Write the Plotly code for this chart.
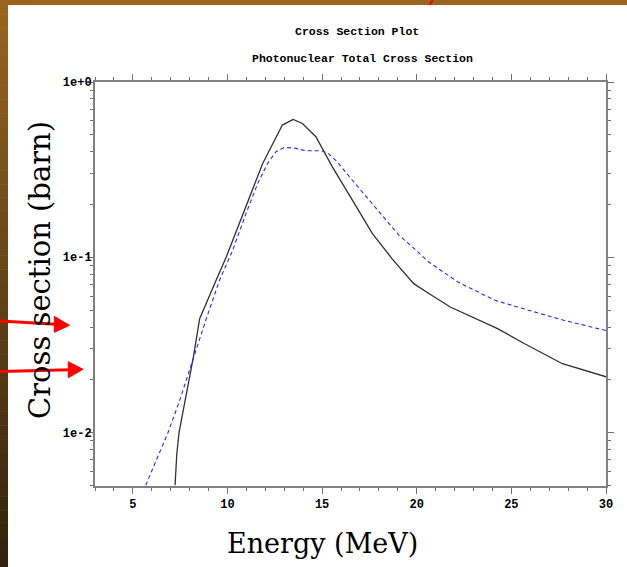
import plotly.graph_objects as go

# ---- data ----
black_energy = [7.23, 7.32, 7.44, 7.56, 7.79, 8.2, 8.53, 8.9, 9.32, 9.93, 10.63, 11.25,
                11.86, 12.4, 12.9, 13.47, 13.96, 14.67, 15.54, 16.6, 17.65, 18.7, 19.3,
                19.84, 20.6, 21.77, 24.3, 25.7, 27.7, 30.0]
black_xs = [0.005, 0.0075, 0.010, 0.0117, 0.0152, 0.027, 0.0446, 0.056, 0.0707, 0.100,
            0.156, 0.231, 0.343, 0.446, 0.568, 0.612, 0.58, 0.487, 0.328, 0.212, 0.137,
            0.098, 0.082, 0.0707, 0.0625, 0.052, 0.039, 0.0321, 0.0247, 0.0208]

blue_energy = [5.68, 6.86, 7.47, 8.0, 8.88, 9.58, 10.28, 10.98, 11.6, 12.12, 12.56, 13.0,
               13.53, 14.14, 14.93, 15.28, 15.8, 16.6, 17.65, 18.7, 19.05, 19.75, 20.63,
               22.2, 24.14, 26.07, 27.8, 30.0]
blue_xs = [0.005, 0.010, 0.0152, 0.023, 0.0446, 0.074, 0.11, 0.178, 0.264, 0.343, 0.40,
           0.423, 0.42, 0.405, 0.405, 0.395, 0.35, 0.275, 0.203, 0.149, 0.134, 0.115,
           0.094, 0.072, 0.0568, 0.0493, 0.0436, 0.0382]

x_ticks = [5, 10, 15, 20, 25, 30]
y_ticks = [0.01, 0.1, 1.0]
y_tick_labels = ["1e-2", "1e-1", "1e+0"]

title1 = "Cross Section Plot"
title2 = "Photonuclear Total Cross Section"
x_title = "Energy (MeV)"
y_title = "Cross section (barn)"

X_RANGE = [3, 30]
Y_RANGE = [-2.305, 0]

# ---- layout geometry ----
W, H = 627, 567
L, R, T, B = 95, 21, 82, 81
PW, PH = W - L - R, H - T - B


def px(x):
    return (x - L) / PW


def py(y):
    return (H - B - y) / PH


fig = go.Figure()
fig.add_trace(go.Scatter(x=black_energy, y=black_xs, mode="lines",
                         line=dict(color="#303030", width=1.3), showlegend=False))
fig.add_trace(go.Scatter(x=blue_energy, y=blue_xs, mode="lines",
                         line=dict(color="#2828ff", width=1.1, dash="4px,3px"),
                         showlegend=False))
# empty trace so the top/right tick axes are drawn
fig.add_trace(go.Scatter(x=[None], y=[None], xaxis="x2", yaxis="y2", mode="lines",
                         showlegend=False, hoverinfo="skip"))

tickfont = dict(family="Liberation Mono", size=12, color="black", weight="bold")
axis_common = dict(showline=True, linecolor="#808080", linewidth=2,
                   ticks="outside", tickcolor="#707070", tickwidth=1,
                   showgrid=False, zeroline=False, tickfont=tickfont)
x_minor = dict(dtick=1, tick0=0, ticks="outside", ticklen=3, tickcolor="#707070",
               showgrid=False)
y_minor = dict(dtick="D1", ticks="outside", ticklen=3, tickcolor="#707070",
               showgrid=False)

fig.update_layout(
    xaxis=dict(range=X_RANGE, tickmode="array", tickvals=x_ticks, ticklen=6,
               minor=x_minor, anchor="y", **axis_common),
    yaxis=dict(type="log", range=Y_RANGE, tickmode="array", tickvals=y_ticks,
               ticktext=y_tick_labels, ticklen=6, ticklabelstandoff=-7,
               minor=y_minor, anchor="x", **axis_common),
    xaxis2=dict(range=X_RANGE, tickmode="array", tickvals=x_ticks, ticklen=6,
                minor=x_minor, overlaying="x", side="top", anchor="y2",
                showticklabels=False, **axis_common),
    yaxis2=dict(type="log", range=Y_RANGE, tickmode="array", tickvals=y_ticks,
                ticklen=6, minor=y_minor, overlaying="y", side="right", anchor="x2",
                showticklabels=False, **axis_common),
)

shapes = []
# left gradient strip
n = 40
c0 = (152, 100, 32)
c1 = (50, 33, 12)
for i in range(n):
    y0 = H * i / n
    y1 = H * (i + 1) / n + 0.5
    t = i / (n - 1)
    col = "rgb(%d,%d,%d)" % tuple(round(c0[k] + (c1[k] - c0[k]) * t) for k in range(3))
    shapes.append(dict(type="rect", xref="paper", yref="paper", x0=px(0), x1=px(8),
                       y0=py(y1), y1=py(y0), fillcolor=col, line=dict(width=0),
                       layer="above"))
# top strip
shapes.append(dict(type="rect", xref="paper", yref="paper", x0=px(0), x1=px(W),
                   y0=py(5), y1=py(0), fillcolor="rgb(152,100,32)", line=dict(width=0),
                   layer="above"))
# red mark at top
shapes.append(dict(type="line", xref="paper", yref="paper", x0=px(433), y0=py(0),
                   x1=px(429.5), y1=py(5), line=dict(color="#ff0000", width=2),
                   layer="above"))


def arrow(x0, y0, tip_x, tip_y, base_x, half):
    base_y = y0 + (tip_y - y0) * (base_x - x0) / (tip_x - x0)
    shapes.append(dict(type="line", xref="paper", yref="paper", x0=px(x0), y0=py(y0),
                       x1=px(base_x + 2), y1=py(base_y), line=dict(color="#ff0000", width=3),
                       layer="above"))
    path = "M %f,%f L %f,%f L %f,%f Z" % (px(tip_x), py(tip_y), px(base_x), py(base_y - half),
                                          px(base_x), py(base_y + half))
    shapes.append(dict(type="path", xref="paper", yref="paper", path=path,
                       fillcolor="#ff0000", line=dict(color="#ff0000", width=1),
                       layer="above"))


arrow(0, 321, 69.5, 325.3, 54.3, 8)
arrow(0, 371.5, 83, 369.3, 68.3, 8)

annotations = [
    dict(text=title1, xref="paper", yref="paper", x=px(357), y=py(32), showarrow=False,
         xanchor="center", yanchor="middle",
         font=dict(family="Liberation Mono", size=11.5, color="black", weight="bold")),
    dict(text=title2, xref="paper", yref="paper", x=px(362.5), y=py(59), showarrow=False,
         xanchor="center", yanchor="middle",
         font=dict(family="Liberation Mono", size=11.5, color="black", weight="bold")),
    dict(text=x_title, xref="paper", yref="paper", x=px(322), y=py(543), showarrow=False,
         xanchor="center", yanchor="middle",
         font=dict(family="DejaVu Serif", size=27, color="black")),
    dict(text=y_title, xref="paper", yref="paper", x=px(40), y=py(270), showarrow=False,
         xanchor="center", yanchor="middle", textangle=-90,
         font=dict(family="DejaVu Serif", size=29, color="black")),
]

fig.update_layout(width=W, height=H, margin=dict(l=L, r=R, t=T, b=B, pad=0),
                  paper_bgcolor="white", plot_bgcolor="white",
                  shapes=shapes, annotations=annotations, showlegend=False)

fig.write_html("out.html", config={"displayModeBar": False},
               post_script="document.body.style.margin='0';document.body.style.overflow='hidden';")
